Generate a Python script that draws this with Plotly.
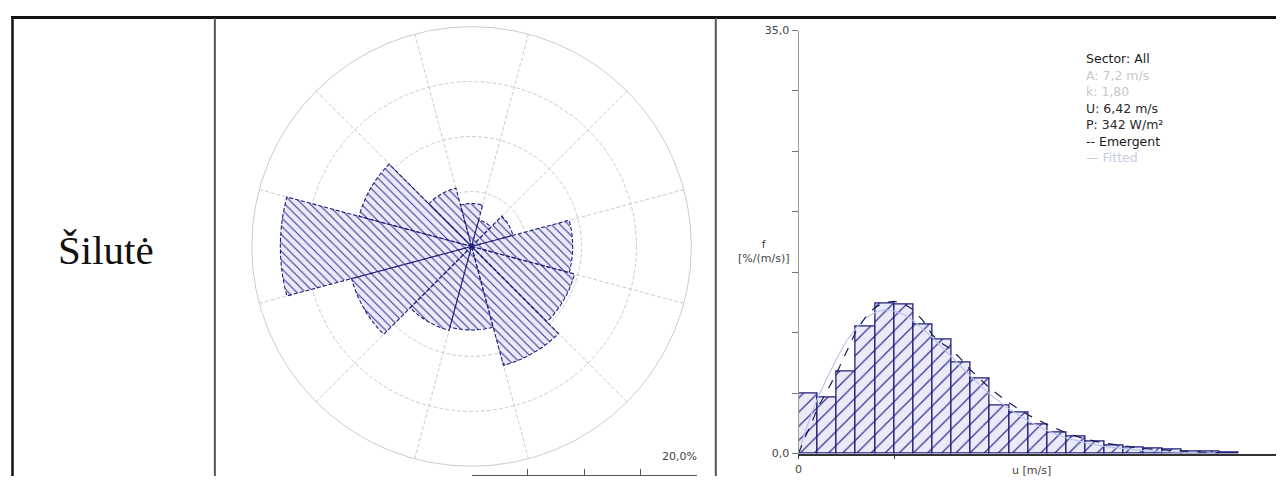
import plotly.graph_objects as go

# window size and default body margin of the written page
WIN_W, WIN_H = 1284, 483
OFF = 8
W, H = WIN_W - OFF, WIN_H - OFF

# ---------------- data ----------------
station_name = "Šilutė"

# Wind rose: 12 sectors, frequency in %
sector_dirs = [0, 30, 60, 90, 120, 150, 180, 210, 240, 270, 300, 330]
sector_freq = [3.9, 2.5, 3.9, 9.2, 9.7, 11.2, 7.6, 7.9, 11.3, 17.4, 10.6, 5.5]
sector_width = 30
rose_rings = [5, 10, 15, 20]
rose_max = 20
rose_scale_label = "20,0%"

# Wind speed histogram: bins of 1 m/s, frequency in %/(m/s)
bin_left = list(range(0, 23))
bin_freq = [5.0, 4.6, 6.8, 10.5, 12.4, 12.3, 10.7, 9.4, 7.5, 6.2, 4.0, 3.4,
            2.4, 1.75, 1.4, 1.0, 0.7, 0.5, 0.4, 0.3, 0.2, 0.15, 0.1]

# Emergent distribution curve
emergent_u = [0, 0.3, 0.7, 1.0, 1.5, 2.0, 2.5, 3.0, 3.5, 4.0, 4.5, 5.0, 5.5, 6.0,
              6.5, 7.0, 7.5, 8.0, 8.5, 9.0, 10, 11, 12, 13, 14, 15, 16, 17, 18,
              19, 20, 21, 22]
emergent_f = [0, 1.2, 2.6, 3.8, 5.2, 6.7, 8.4, 10.1, 11.3, 12.1, 12.5, 12.6, 12.4,
              11.9, 11.0, 9.8, 9.1, 8.6, 7.8, 6.9, 5.4, 4.2, 3.2, 2.4, 1.7, 1.2,
              0.86, 0.62, 0.43, 0.31, 0.21, 0.13, 0.08]
# Fitted curve (faint, estimated)
fitted_u = emergent_u
fitted_f = [0, 1.6, 3.4, 4.6, 6.3, 7.9, 9.3, 10.4, 11.2, 11.7, 11.9, 11.8, 11.5,
            11.0, 10.3, 9.6, 8.8, 8.0, 7.2, 6.4, 4.9, 3.7, 2.7, 1.9, 1.3, 0.9,
            0.6, 0.4, 0.25, 0.16, 0.1, 0.06, 0.04]

y_ticks = [0, 5, 10, 15, 20, 25, 30, 35]
y_ticktext = ["0,0", "", "", "", "", "", "", "35,0"]
x_ticks = [0, 5, 25]
x_ticktext = ["0", "", "25,0"]

legend_lines = [("Sector: All", "#1a1a1a"), ("A: 7,2 m/s", "#c8c8c8"),
                ("k: 1,80", "#c8c8c8"), ("U: 6,42 m/s", "#2a2a2a"),
                ("P: 342 W/m²", "#2a2a2a"), ("-- Emergent", "#1a1a1a"),
                ("— Fitted", "#c8cce0")]


def px(x):
    """window pixel x -> paper coordinate"""
    return (x - OFF) / W


def py(y):
    """window pixel y -> paper coordinate"""
    return 1 - (y - OFF) / H


NAVY = "#1e1e78"
HATCH = "#34349a"
FILLBG = "#ebebf8"
GRID = "#cdcdcd"
TXT = "#444444"

fig = go.Figure()

# ---------------- wind rose ----------------
fig.add_trace(go.Barpolar(
    r=sector_freq, theta=sector_dirs, width=[sector_width] * len(sector_dirs),
    marker=dict(color=FILLBG, line=dict(width=0),
                pattern=dict(shape="\\", fgcolor=HATCH, bgcolor=FILLBG,
                             size=6, solidity=0.18, fillmode="replace")),
    hoverinfo="skip", showlegend=False, subplot="polar"))

# dashed wedge outlines built from the sector data
out_r, out_t = [], []
half = sector_width / 2
for d, f in zip(sector_dirs, sector_freq):
    out_r.append(0)
    out_t.append(d)
    steps = 10
    for k in range(steps + 1):
        out_r.append(f)
        out_t.append(d - half + k * sector_width / steps)
    out_r.append(0)
    out_t.append(d)
    out_r.append(None)
    out_t.append(None)
fig.add_trace(go.Scatterpolar(
    r=out_r, theta=out_t, mode="lines",
    line=dict(color=NAVY, width=1.1, dash="4px,2px"),
    hoverinfo="skip", showlegend=False, subplot="polar"))

# ---------------- histogram ----------------
fig.add_trace(go.Bar(
    x=[b + 0.5 for b in bin_left], y=bin_freq, width=1,
    marker=dict(color=FILLBG, line=dict(color=NAVY, width=1.3),
                pattern=dict(shape="/", fgcolor=HATCH, bgcolor=FILLBG,
                             size=10, solidity=0.13, fillmode="replace")),
    hoverinfo="skip", showlegend=False, xaxis="x", yaxis="y"))

fig.add_trace(go.Scatter(
    x=fitted_u, y=fitted_f, mode="lines",
    line=dict(color="#b7c2ec", width=1.1),
    hoverinfo="skip", showlegend=False, xaxis="x", yaxis="y"))
fig.add_trace(go.Scatter(
    x=emergent_u, y=emergent_f, mode="lines",
    line=dict(color="#1b1b55", width=1.2, dash="dash"),
    hoverinfo="skip", showlegend=False, xaxis="x", yaxis="y"))

# dummy trace to realise the rose scale-bar axis
fig.add_trace(go.Scatter(x=[None], y=[None], xaxis="x2", yaxis="y2",
                         showlegend=False, hoverinfo="skip"))

fig.update_layout(
    width=W, height=H, autosize=False,
    margin=dict(l=0, r=0, t=0, b=0),
    paper_bgcolor="white", plot_bgcolor="white",
    font=dict(family="DejaVu Sans", size=11, color=TXT),
    showlegend=False,
    bargap=0,
    modebar=dict(bgcolor="rgba(0,0,0,0)", color="rgba(0,0,0,0)",
                 activecolor="rgba(0,0,0,0)"),
    polar=dict(
        domain=dict(x=[px(243), px(695)], y=[py(473), py(21)]),
        bgcolor="white",
        radialaxis=dict(range=[0, rose_max], tickvals=rose_rings,
                        showticklabels=False, ticks="", showline=False,
                        gridcolor=GRID, griddash="4px,2px", gridwidth=1),
        angularaxis=dict(direction="clockwise", rotation=90,
                         tickvals=[d + half for d in sector_dirs],
                         showticklabels=False, ticks="",
                         gridcolor=GRID, griddash="4px,2px", gridwidth=1,
                         showline=True, linecolor=GRID, linewidth=1),
    ),
    xaxis=dict(domain=[px(797), px(1277)], range=[0, 25], anchor="y",
               showgrid=False, zeroline=False, showline=True,
               linecolor="#333333", linewidth=1.5,
               tickvals=x_ticks, ticktext=x_ticktext, ticks="outside",
               ticklen=4, tickcolor="#333333",
               tickfont=dict(size=11, color=TXT)),
    yaxis=dict(domain=[py(460), py(25)], range=[0, 35], anchor="x",
               showgrid=False, zeroline=False, showline=True,
               linecolor="#9a9a9a", linewidth=1,
               tickvals=y_ticks, ticktext=y_ticktext, ticks="outside",
               ticklen=6, tickcolor="#777777",
               tickfont=dict(size=11, color=TXT)),
    xaxis2=dict(domain=[px(469), px(695)], range=[0, rose_max], anchor="free",
                position=py(482), showgrid=False, zeroline=False,
                showline=True, linecolor="#555555", linewidth=1,
                tickvals=[0] + rose_rings, showticklabels=False,
                ticks="inside", ticklen=6, tickcolor="#555555"),
    yaxis2=dict(domain=[0, 0.01], visible=False, anchor="x2"),
)


def note(text, x, y, size=11, color=TXT, xanchor="center", family=None, align="center"):
    f = dict(size=size, color=color)
    if family:
        f["family"] = family
    return dict(text=text, x=px(x), y=py(y), xref="paper", yref="paper",
                xanchor=xanchor, yanchor="middle", align=align,
                showarrow=False, font=f)


annotations = [
    note(station_name, 102, 251, size=41, color="#111111", family="Liberation Serif"),
    note(rose_scale_label, 697, 463, xanchor="right"),
    note("f<br>[%/(m/s)]", 789, 252, xanchor="right"),
    note("u [m/s]", 1031, 477),
]
for i, (t, c) in enumerate(legend_lines):
    annotations.append(note(t, 1083, 54 + i * 17, size=12.5, color=c, xanchor="left"))
fig.update_layout(annotations=annotations)

# table frame
shapes = [
    dict(type="line", xref="paper", yref="paper", x0=px(7), x1=1, y0=py(11.5), y1=py(11.5),
         line=dict(color="#111111", width=3)),
    dict(type="line", xref="paper", yref="paper", x0=px(8.5), x1=px(8.5), y0=py(11), y1=0,
         line=dict(color="#111111", width=2.5)),
    dict(type="line", xref="paper", yref="paper", x0=px(211.5), x1=px(211.5), y0=py(12), y1=0,
         line=dict(color="#555555", width=2)),
    dict(type="line", xref="paper", yref="paper", x0=px(714), x1=px(714), y0=py(12), y1=0,
         line=dict(color="#555555", width=2)),
]
fig.update_layout(shapes=shapes)

fig.write_html("out.html")
